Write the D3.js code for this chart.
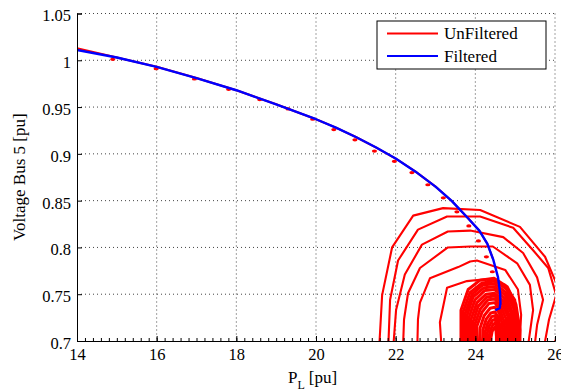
<!DOCTYPE html>
<html>
<head>
<meta charset="utf-8">
<script src="https://cdn.jsdelivr.net/npm/d3@7"></script>
<style>
  body { margin: 0; background: #fff; }
  svg text { font-family: "Liberation Serif", "Times New Roman", serif; }
</style>
</head>
<body>
<div class="svg-container"></div>
<script>
var width = 561, height = 391;
var margin = {top: 13.5, right: 6, bottom: 50, left: 77};

var xTicks = [14, 16, 18, 20, 22, 24, 26];
var yTicks = [0.7, 0.75, 0.8, 0.85, 0.9, 0.95, 1, 1.05];
var seriesNames = ["UnFiltered", "Filtered"];
var seriesColors = ["#ff0000", "#0000ff"];

// filtered nose curve (P_L, V)
var filtered = [
  [14, 1.011], [15, 1.003], [16, 0.993], [17, 0.981], [18, 0.968], [19, 0.953],
  [20, 0.937], [20.5, 0.928], [21, 0.918], [21.5, 0.907], [22, 0.895], [22.5, 0.881],
  [23, 0.865], [23.4, 0.85], [23.8, 0.832], [24.1, 0.818], [24.3, 0.804], [24.45, 0.787],
  [24.57, 0.768], [24.62, 0.752], [24.63, 0.74], [24.61, 0.735], [24.5, 0.733]
];

// unfiltered: main curve, sample blips and the oscillation loops
var unfilteredCurve = [
  [14, 1.013], [15, 1.003], [16, 0.993], [17, 0.981], [18, 0.968], [19, 0.953],
  [20, 0.937], [20.5, 0.928], [21, 0.918], [21.5, 0.907], [22, 0.895], [22.5, 0.881],
  [23, 0.865], [23.4, 0.85], [23.8, 0.832], [24.1, 0.818], [24.3, 0.804], [24.45, 0.787]
];
var unfilteredMarks = [
  [14.91, 1.001], [16.0, 0.991], [16.96, 0.980], [17.82, 0.969], [18.6, 0.958],
  [19.31, 0.948], [19.93, 0.937], [20.46, 0.926], [20.99, 0.915], [21.48, 0.903],
  [21.98, 0.892], [22.42, 0.880], [22.82, 0.867], [23.21, 0.853], [23.55, 0.838],
  [23.85, 0.823], [24.09, 0.807], [24.29, 0.790], [24.44, 0.774]
];
var unfilteredLoops = [
  [[21.58,0.688],[21.66,0.749],[21.91,0.800],[22.44,0.834],[23.19,0.842],[24.12,0.840],[25.12,0.822],[25.75,0.790],[26.05,0.760],[26.28,0.733],[26.13,0.712],[25.88,0.688]],
  [[21.81,0.688],[21.86,0.744],[22.06,0.786],[22.56,0.819],[23.29,0.833],[24.12,0.833],[24.95,0.821],[25.45,0.797],[25.83,0.778],[26.03,0.749],[25.85,0.723],[25.7,0.688]],
  [[21.93,0.688],[22.01,0.733],[22.23,0.771],[22.66,0.803],[23.31,0.817],[23.87,0.818],[24.70,0.811],[25.2,0.794],[25.55,0.768],[25.7,0.744],[25.55,0.717],[25.47,0.688]],
  [[22.18,0.688],[22.21,0.723],[22.31,0.751],[22.61,0.778],[23.31,0.800],[23.87,0.801],[24.44,0.801],[25.05,0.783],[25.37,0.760],[25.45,0.733],[25.3,0.688]],
  [[22.54,0.688],[22.56,0.723],[22.61,0.741],[22.86,0.767],[23.57,0.779],[23.87,0.785],[24.04,0.786],[24.75,0.776],[25.07,0.755],[25.15,0.728],[25.1,0.688]],
  [[23.16,0.688],[23.11,0.720],[23.29,0.757],[23.79,0.764],[24.24,0.766],[24.75,0.760],[25.0,0.744],[25.05,0.723],[24.97,0.688]],
  [[23.64,0.688],[23.64,0.733],[23.82,0.755],[24.12,0.765],[24.47,0.767],[24.8,0.758],[25.02,0.739],[25.12,0.712],[25.12,0.688]],
  [[23.69,0.688],[23.69,0.731],[23.87,0.752],[24.17,0.762],[24.49,0.764],[24.8,0.755],[25.0,0.736],[25.07,0.712],[25.07,0.688]],
  [[23.74,0.688],[23.74,0.729],[23.92,0.750],[24.19,0.760],[24.49,0.761],[24.77,0.752],[24.97,0.734],[25.02,0.712],[25.02,0.688]],
  [[23.79,0.688],[23.79,0.727],[23.94,0.747],[24.22,0.757],[24.49,0.758],[24.75,0.749],[24.92,0.732],[24.97,0.711],[24.97,0.688]],
  [[23.84,0.688],[23.84,0.725],[23.99,0.744],[24.24,0.754],[24.49,0.755],[24.72,0.746],[24.9,0.730],[24.95,0.711],[24.95,0.688]],
  [[23.89,0.688],[23.89,0.723],[24.04,0.741],[24.27,0.750],[24.49,0.751],[24.7,0.743],[24.85,0.728],[24.9,0.710],[24.9,0.688]],
  [[23.94,0.688],[23.94,0.720],[24.07,0.737],[24.29,0.747],[24.49,0.748],[24.67,0.740],[24.82,0.726],[24.85,0.709],[24.85,0.688]],
  [[23.99,0.688],[23.99,0.718],[24.12,0.734],[24.32,0.744],[24.49,0.745],[24.65,0.736],[24.77,0.724],[24.8,0.708],[24.8,0.688]],
  [[24.04,0.688],[24.04,0.716],[24.17,0.731],[24.34,0.740],[24.49,0.741],[24.62,0.733],[24.72,0.721],[24.75,0.707],[24.75,0.688]],
  [[24.09,0.688],[24.12,0.714],[24.22,0.727],[24.37,0.735],[24.49,0.736],[24.6,0.730],[24.67,0.719],[24.7,0.705],[24.7,0.688]],
  [[24.17,0.688],[24.19,0.712],[24.27,0.723],[24.39,0.730],[24.49,0.731],[24.57,0.726],[24.62,0.716],[24.65,0.704],[24.65,0.688]],
  [[24.22,0.688],[24.24,0.709],[24.31,0.719],[24.41,0.726],[24.49,0.727],[24.55,0.722],[24.6,0.713],[24.62,0.702],[24.62,0.688]],
  [[24.27,0.688],[24.29,0.707],[24.35,0.716],[24.43,0.722],[24.49,0.723],[24.54,0.719],[24.57,0.710],[24.59,0.700],[24.59,0.688]],
  [[24.32,0.688],[24.34,0.705],[24.39,0.713],[24.45,0.718],[24.5,0.719],[24.53,0.715],[24.55,0.708],[24.56,0.699],[24.56,0.688]],
  [[24.37,0.688],[24.39,0.703],[24.42,0.710],[24.47,0.714],[24.5,0.715],[24.52,0.711],[24.53,0.705],[24.53,0.697],[24.53,0.688]]
];

var plotW = width - margin.left - margin.right;
var plotH = 341 - margin.top;

var x = d3.scaleLinear().domain([14, 26]).range([0, plotW]);
var y = d3.scaleLinear().domain([0.7, 1.05]).range([plotH, 0]);

var svgCanvas = d3.select(".svg-container").append("svg")
                  .attr("width", width)
                  .attr("height", height)
                  .attr("font-family", "'Liberation Serif', serif")
                  .style("background-color", "#fff");

var g = svgCanvas.append("g")
                 .attr("transform", "translate(" + margin.left + "," + margin.top + ")");

g.append("clipPath").attr("id", "plotclip")
 .append("rect").attr("width", plotW).attr("height", plotH);

// dotted grid (also makes the top and right edges)
g.selectAll(".vgrid").data(xTicks.slice(1)).enter().append("line")
 .attr("x1", function(d) { return x(d); }).attr("x2", function(d) { return x(d); })
 .attr("y1", 0).attr("y2", plotH)
 .attr("stroke", "#444").attr("stroke-width", 1).attr("stroke-dasharray", "1,3");
g.selectAll(".hgrid").data(yTicks.slice(1)).enter().append("line")
 .attr("x1", 0).attr("x2", plotW)
 .attr("y1", function(d) { return y(d); }).attr("y2", function(d) { return y(d); })
 .attr("stroke", "#444").attr("stroke-width", 1).attr("stroke-dasharray", "1,3");

var line = d3.line().x(function(d) { return x(d[0]); }).y(function(d) { return y(d[1]); });

var plot = g.append("g").attr("clip-path", "url(#plotclip)");

// outer loops drawn thin, the tight inner ones thicker so they merge like the original
plot.selectAll(".loop").data(unfilteredLoops).enter().append("path")
    .attr("d", line)
    .attr("fill", "none").attr("stroke", seriesColors[0])
    .attr("stroke-width", function(d, i) { return i < 6 ? 2.1 : 3; })
    .attr("stroke-linejoin", "round");

plot.append("path").datum(unfilteredCurve)
    .attr("d", line)
    .attr("fill", "none").attr("stroke", seriesColors[0]).attr("stroke-width", 2);

plot.selectAll(".mark").data(unfilteredMarks).enter().append("ellipse")
    .attr("cx", function(d) { return x(d[0]) - 0.5; })
    .attr("cy", function(d) { return y(d[1]); })
    .attr("rx", 2.6).attr("ry", 1.6)
    .attr("fill", seriesColors[0]);

plot.append("path").datum(filtered)
    .attr("d", line)
    .attr("fill", "none").attr("stroke", seriesColors[1])
    .attr("stroke-width", 2.4).attr("stroke-linejoin", "round");

// axes
var xAxis = d3.axisBottom(x).tickValues(xTicks).tickFormat(d3.format("d"))
              .tickSize(-5).tickPadding(7);
var xMinor = d3.axisBottom(x).ticks(60).tickFormat("").tickSize(-3);
var yAxis = d3.axisLeft(y).tickValues(yTicks).tickFormat(function(d) { return String(+d.toFixed(2)); })
              .tickSize(-5).tickPadding(6);

var gx = g.append("g").attr("transform", "translate(0," + plotH + ")").call(xAxis);
g.append("g").attr("transform", "translate(0," + plotH + ")").call(xMinor)
 .select(".domain").remove();
var gy = g.append("g").call(yAxis);

[gx, gy].forEach(function(a) {
  a.attr("font-family", "'Liberation Serif', serif").attr("font-size", 16.5);
  a.selectAll("text").attr("fill", "#000");
  a.select(".domain").attr("stroke", "#000");
});
gy.selectAll("text").attr("dy", "0.45em");
g.selectAll(".tick line").attr("stroke", "#000");

// axis labels
var xl = svgCanvas.append("text").attr("x", 288).attr("y", 383).attr("font-size", 17);
xl.append("tspan").text("P");
xl.append("tspan").attr("font-size", 12).attr("dy", 6).text("L");
xl.append("tspan").attr("dy", -6).attr("dx", 4).text("[pu]");

svgCanvas.append("text")
  .attr("transform", "translate(25," + (margin.top + plotH / 2) + ") rotate(-90)")
  .attr("text-anchor", "middle").attr("font-size", 17)
  .text("Voltage Bus 5 [pu]");

// legend
var lg = svgCanvas.append("g").attr("transform", "translate(377,21)");
lg.append("rect").attr("width", 169).attr("height", 48)
  .attr("fill", "#fff").attr("stroke", "#000").attr("stroke-width", 1);
seriesNames.forEach(function(name, i) {
  var yy = 12.5 + i * 22.5;
  lg.append("line").attr("x1", 10).attr("x2", 61).attr("y1", yy).attr("y2", yy)
    .attr("stroke", seriesColors[i]).attr("stroke-width", 2);
  lg.append("text").attr("x", 67).attr("y", yy + 5.5).attr("font-size", 17).text(name);
});
</script>
</body>
</html>
